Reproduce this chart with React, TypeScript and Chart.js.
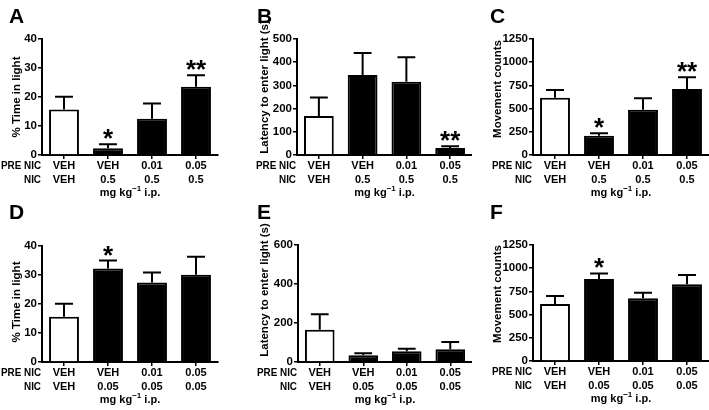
import React, { useEffect, useRef } from 'react';
import { Chart, registerables } from 'chart.js';
Chart.register(...registerables);

// ---------- data ----------
const preNic = ['VEH', 'VEH', '0.01', '0.05'];
const nicHigh = ['VEH', '0.5', '0.5', '0.5'];
const nicLow = ['VEH', '0.05', '0.05', '0.05'];

const timeLightHigh = [15.7, 2.3, 12.5, 23.5];
const timeLightHighErr = [4.4, 1.4, 5.3, 4.0];
const latencyHigh = [168, 345, 316, 30];
const latencyHighErr = [80, 95, 105, 8];
const movementHigh = [617, 208, 487, 711];
const movementHighErr = [83, 27, 124, 127];

const timeLightLow = [15.6, 32.2, 27.4, 30.1];
const timeLightLowErr = [4.5, 2.8, 3.5, 6.2];
const latencyLow = [165, 35, 55, 65];
const latencyLowErr = [80, 10, 13, 37];
const movementLow = [614, 884, 676, 827];
const movementLowErr = [86, 60, 60, 100];

const sigHighTime = ['', '*', '', '**'];
const sigHighLatency = ['', '', '', '**'];
const sigHighMove = ['', '*', '', '**'];
const sigLowTime = ['', '*', '', ''];
const sigLowLatency = ['', '', '', ''];
const sigLowMove = ['', '*', '', ''];

const barFill = ['#ffffff', '#000000', '#000000', '#000000'];

const FONT = "'Liberation Sans', Arial, Helvetica, sans-serif";

type Panel = {
  letter: string;
  cx: number; cy: number; cw: number; ch: number;
  l: number; t: number; r: number; b: number;
  yMax: number; yStep: number;
  yTitle: string; titleX: number; titleY: number; letterX: number; letterY: number;
  values: number[]; errs: number[]; sig: string[]; nic: string[];
};

const panels: Panel[] = [
  { letter: 'A', cx: 0, cy: 0, cw: 236, ch: 205, l: 42, t: 39, r: 218, b: 155, yMax: 40, yStep: 10,
    yTitle: '% Time in light', titleX: 17, titleY: 97, letterX: 9, letterY: 23,
    values: timeLightHigh, errs: timeLightHighErr, sig: sigHighTime, nic: nicHigh },
  { letter: 'B', cx: 236, cy: 0, cw: 236, ch: 205, l: 297, t: 39, r: 473, b: 155, yMax: 500, yStep: 100,
    yTitle: 'Latency to enter light (s)', titleX: 265, titleY: 87, letterX: 257, letterY: 23,
    values: latencyHigh, errs: latencyHighErr, sig: sigHighLatency, nic: nicHigh },
  { letter: 'C', cx: 472, cy: 0, cw: 237, ch: 205, l: 533, t: 39, r: 709, b: 155, yMax: 1250, yStep: 250,
    yTitle: 'Movement counts', titleX: 498, titleY: 89, letterX: 490, letterY: 23,
    values: movementHigh, errs: movementHighErr, sig: sigHighMove, nic: nicHigh },
  { letter: 'D', cx: 0, cy: 205, cw: 236, ch: 205, l: 42, t: 246, r: 218, b: 362, yMax: 40, yStep: 10,
    yTitle: '% Time in light', titleX: 17, titleY: 302, letterX: 9, letterY: 219,
    values: timeLightLow, errs: timeLightLowErr, sig: sigLowTime, nic: nicLow },
  { letter: 'E', cx: 236, cy: 205, cw: 236, ch: 205, l: 298, t: 245, r: 474, b: 362, yMax: 600, yStep: 200,
    yTitle: 'Latency to enter light (s)', titleX: 265, titleY: 290, letterX: 257, letterY: 219,
    values: latencyLow, errs: latencyLowErr, sig: sigLowLatency, nic: nicLow },
  { letter: 'F', cx: 472, cy: 205, cw: 237, ch: 205, l: 533, t: 245, r: 709, b: 361, yMax: 1250, yStep: 250,
    yTitle: 'Movement counts', titleX: 498, titleY: 294, letterX: 490, letterY: 219,
    values: movementLow, errs: movementLowErr, sig: sigLowMove, nic: nicLow },
];

const annotatePlugin = {
  id: 'annotate',
  afterDatasetsDraw(chart: any, _args: any, opts: any) {
    const p: Panel = opts.panel;
    const ctx = chart.ctx as CanvasRenderingContext2D;
    const ys = chart.scales.y;
    const meta = chart.getDatasetMeta(0);
    ctx.save();
    ctx.strokeStyle = '#000';
    ctx.fillStyle = '#000';
    ctx.lineWidth = 2;
    meta.data.forEach((bar: any, i: number) => {
      const { x, width } = bar.getProps(['x', 'width'], true);
      const v = p.values[i];
      const yBar = ys.getPixelForValue(v);
      const yTop = ys.getPixelForValue(v + p.errs[i]);
      const cap = width * 0.3;
      ctx.beginPath();
      ctx.moveTo(x, yBar);
      ctx.lineTo(x, yTop);
      ctx.moveTo(x - cap, yTop);
      ctx.lineTo(x + cap, yTop);
      ctx.stroke();
      if (p.sig[i]) {
        ctx.font = `bold 26px ${FONT}`;
        ctx.textAlign = 'center';
        ctx.textBaseline = 'alphabetic';
        ctx.fillText(p.sig[i], x, yTop + 3);
      }
    });
    ctx.restore();
  },
  afterDraw(chart: any, _args: any, opts: any) {
    const p: Panel = opts.panel;
    const ctx = chart.ctx as CanvasRenderingContext2D;
    const area = chart.chartArea;
    const xs = chart.scales.x;
    ctx.save();
    ctx.fillStyle = '#000';
    // panel letter
    ctx.font = `bold 21px ${FONT}`;
    ctx.textAlign = 'left';
    ctx.textBaseline = 'alphabetic';
    ctx.fillText(p.letter, p.letterX - p.cx, p.letterY - p.cy);
    // y title
    ctx.save();
    ctx.font = `bold 11.5px ${FONT}`;
    ctx.translate(p.titleX - p.cx, p.titleY - p.cy);
    ctx.rotate(-Math.PI / 2);
    ctx.textAlign = 'center';
    ctx.textBaseline = 'middle';
    ctx.fillText(p.yTitle, 0, 0);
    ctx.restore();
    // category labels
    ctx.font = `bold 11px ${FONT}`;
    ctx.textBaseline = 'middle';
    const row1 = area.bottom + 11;
    const row2 = area.bottom + 25;
    ctx.textAlign = 'right';
    ctx.fillText('PRE NIC', area.left - 1, row1, 40);
    ctx.fillText('NIC', area.left - 1, row2, 17);
    ctx.textAlign = 'center';
    preNic.forEach((lab, i) => {
      const x = xs.getPixelForValue(i);
      ctx.fillText(lab, x, row1);
      ctx.fillText(p.nic[i], x, row2);
    });
    // unit label
    const rowU = area.bottom + 38;
    const s1 = 'mg kg';
    const s2 = '\u22121';
    const s3 = ' i.p.';
    ctx.font = `bold 11px ${FONT}`;
    const w1 = ctx.measureText(s1).width;
    const w3 = ctx.measureText(s3).width;
    ctx.font = `bold 8px ${FONT}`;
    const w2 = ctx.measureText(s2).width;
    let sx = (area.left + area.right) / 2 - (w1 + w2 + w3) / 2;
    ctx.textAlign = 'left';
    ctx.font = `bold 11px ${FONT}`;
    ctx.fillText(s1, sx, rowU);
    sx += w1;
    ctx.font = `bold 8px ${FONT}`;
    ctx.fillText(s2, sx, rowU - 4);
    sx += w2;
    ctx.font = `bold 11px ${FONT}`;
    ctx.fillText(s3, sx, rowU);
    ctx.restore();
  },
};

function PanelChart({ p }: { p: Panel }) {
  const ref = useRef<HTMLCanvasElement | null>(null);
  useEffect(() => {
    if (!ref.current) return;
    const chart = new Chart(ref.current, {
      type: 'bar',
      data: {
        labels: preNic.map((v, i) => `${v} ${p.nic[i]}`),
        datasets: [
          {
            data: p.values,
            backgroundColor: barFill,
            borderColor: '#000',
            borderWidth: 2,
            borderSkipped: 'bottom',
            categoryPercentage: 1,
            barPercentage: 0.68,
          },
        ],
      },
      options: {
        responsive: false,
        animation: false,
        devicePixelRatio: 1,
        layout: {
          padding: { left: 0, top: p.t - p.cy, right: p.cx + p.cw - p.r, bottom: 0 },
        },
        plugins: {
          legend: { display: false },
          tooltip: { enabled: false },
          title: { display: false },
          annotate: { panel: p },
        } as any,
        scales: {
          x: {
            offset: true,
            grid: {
              display: true,
              drawOnChartArea: false,
              drawTicks: true,
              tickLength: 4,
              color: '#000',
              lineWidth: 1.5,
              offset: false,
            },
            border: { display: true, color: '#000', width: 2 },
            ticks: { display: false },
            afterFit: (scale: any) => {
              scale.height = p.cy + p.ch - p.b;
            },
          },
          y: {
            min: 0,
            max: p.yMax,
            grid: {
              display: true,
              drawOnChartArea: false,
              drawTicks: true,
              tickLength: 4,
              color: '#000',
              lineWidth: 1.5,
            },
            border: { display: true, color: '#000', width: 2 },
            ticks: {
              stepSize: p.yStep,
              color: '#000',
              padding: 1,
              font: { family: FONT, size: 11.5, weight: 'bold' },
              callback: (value: any) => String(value),
            },
            afterFit: (scale: any) => {
              scale.width = p.l - p.cx;
            },
          },
        },
      },
      plugins: [annotatePlugin],
    });
    return () => chart.destroy();
  }, [p]);
  return (
    <canvas
      ref={ref}
      width={p.cw}
      height={p.ch}
      style={{ position: 'absolute', left: p.cx, top: p.cy, width: p.cw, height: p.ch }}
    />
  );
}

export default function App() {
  return (
    <div style={{ position: 'absolute', left: 0, top: 0, width: 709, height: 410, background: '#fff' }}>
      {panels.map((p) => (
        <PanelChart key={p.letter} p={p} />
      ))}
    </div>
  );
}
